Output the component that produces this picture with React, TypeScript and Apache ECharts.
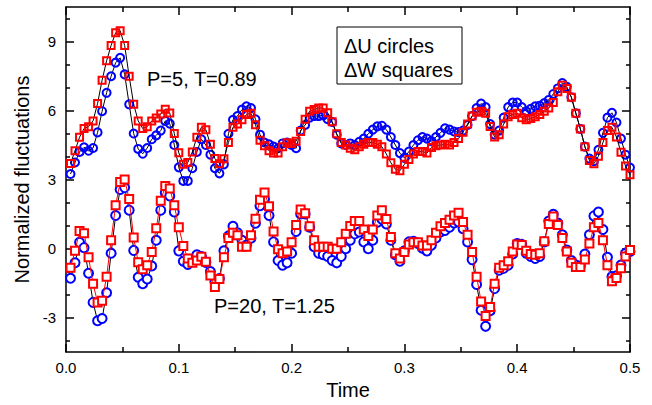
import React, { useEffect, useRef } from "react";
import * as echarts from "echarts";

const DT = 0.004;

const upperU = [
  3.24, 3.74, 4.2, 4.4, 4.25, 4.37, 5.05, 5.97, 6.77, 7.49,
  8.08, 8.29, 7.57, 6.27, 5.0, 4.33, 4.12, 4.37, 4.75, 4.92,
  5.13, 5.55, 5.43, 4.5, 3.53, 2.94, 2.94, 3.49, 4.2, 4.75,
  4.5, 4.08, 3.49, 3.27, 3.66, 4.99, 5.6, 5.76, 6.04, 6.18,
  6.11, 5.62, 4.95, 4.61, 4.53, 4.43, 4.36, 4.57, 4.61, 4.5,
  4.36, 5.13, 5.37, 5.69, 5.76, 5.76, 5.79, 5.62, 5.5, 4.95,
  4.57, 4.5, 4.57, 4.5, 4.64, 4.78, 4.99, 5.17, 5.31, 5.34,
  5.17, 4.85, 4.5, 4.15, 3.94, 4.22, 4.5, 4.71, 4.85, 4.78,
  4.67, 4.85, 5.03, 5.23, 5.17, 5.09, 5.06, 5.13, 5.37, 5.76,
  6.11, 6.3, 6.15, 5.41, 4.95, 5.13, 5.69, 6.15, 6.35, 6.35,
  6.15, 5.97, 6.07, 6.18, 6.21, 6.32, 6.46, 6.72, 6.96, 7.19,
  7.03, 6.58, 5.88, 5.2, 4.43, 3.91, 3.8, 4.29, 5.03, 5.69,
  5.9, 5.48, 4.78, 4.08, 3.52,
];

const upperW = [
  3.7, 4.25, 4.84, 5.22, 5.3, 5.55, 6.31, 7.32, 8.16, 8.83,
  9.38, 9.47, 8.83, 7.49, 6.27, 5.55, 5.22, 5.3, 5.55, 5.68,
  5.85, 6.06, 5.89, 5.0, 4.16, 3.66, 3.74, 4.2, 4.84, 5.27,
  5.17, 4.53, 3.91, 3.69, 3.9, 4.61, 5.27, 5.41, 5.6, 5.83,
  5.88, 5.38, 4.71, 4.47, 4.25, 4.15, 4.15, 4.43, 4.6, 4.57,
  4.67, 5.09, 5.62, 5.97, 6.04, 6.11, 6.11, 5.9, 5.51, 4.99,
  4.61, 4.5, 4.36, 4.29, 4.43, 4.53, 4.61, 4.61, 4.53, 4.43,
  4.11, 3.73, 3.45, 3.38, 3.66, 3.87, 4.11, 4.22, 4.22, 4.15,
  4.39, 4.47, 4.5, 4.53, 4.5, 4.61, 4.78, 5.06, 5.41, 5.76,
  5.93, 5.97, 5.88, 5.31, 4.85, 4.95, 5.41, 5.73, 5.83, 5.88,
  5.69, 5.6, 5.65, 5.73, 5.83, 5.97, 6.11, 6.35, 6.82, 7.1,
  6.96, 6.58, 5.88, 5.2, 4.43, 3.83, 3.69, 4.01, 4.61, 5.13,
  5.27, 4.85, 4.19, 3.59, 3.21,
];

const lowerU = [
  -1.29, -0.62, 0.27, 0.04, -1.07, -2.34, -3.14, -3.04, -1.92, -0.2,
  1.44, 2.57, 2.65, 1.67, -0.08, -1.25, -1.53, -1.32, -0.76, 0.36,
  1.67, 2.43, 2.29, 1.59, -0.1, -0.55, -0.69, -0.48, -0.27, -0.35,
  -0.6, -1.0, -1.45, -1.3, -0.1, 0.55, 0.97, 0.69, 0.36, 0.15,
  0.45, 1.1, 1.86, 2.15, 1.44, 0.29, -0.52, -0.72, -0.62, -0.2,
  0.74, 1.5, 1.5, 0.93, 0.08, -0.2, -0.27, -0.34, -0.52, -0.62,
  -0.34, -0.01, 0.36, 0.64, 0.72, 0.29, -0.01, 0.36, 1.14, 1.28,
  1.07, 0.36, -0.27, -0.55, -0.1, 0.29, 0.32, 0.22, 0.01, -0.1,
  0.15, 0.46, 0.72, 0.79, 0.93, 1.11, 1.16, 0.86, 0.29, -0.48,
  -1.56, -2.68, -3.38, -2.7, -1.74, -0.94, -0.86, -0.72, -0.24, 0.22,
  0.18, -0.2, -0.34, -0.43, -0.34, 0.29, 1.2, 1.49, 1.11, 0.6,
  -0.06, -0.52, -0.72, -0.76, -0.24, 0.6, 1.42, 1.59, 0.83, -0.38,
  -1.22, -1.18, -0.72, -0.2, -0.13,
];

const lowerW = [
  -0.83, -0.1, 0.76, 0.67, -0.38, -1.53, -2.34, -2.27, -1.22, 0.36,
  1.88, 2.89, 3.0, 2.15, 0.48, -0.59, -0.9, -0.72, -0.15, 0.88,
  2.08, 2.72, 2.61, 1.88, 0.93, 0.11, -0.43, -0.62, -0.52, -0.36,
  -0.57, -1.17, -1.67, -1.32, -0.38, 0.46, 0.69, 0.58, 0.08, 0.08,
  0.58, 1.3, 2.12, 2.44, 1.84, 0.74, -0.03, -0.2, -0.13, 0.27,
  1.02, 1.7, 1.53, 0.97, 0.36, 0.08, 0.08, 0.08, -0.01, -0.01,
  0.28, 0.64, 0.98, 1.2, 1.2, 0.83, 0.55, 0.83, 1.44, 1.67,
  1.28, 0.5, -0.2, -0.43, -0.15, 0.18, 0.27, 0.27, 0.13, 0.13,
  0.36, 0.69, 0.97, 1.11, 1.25, 1.44, 1.56, 1.16, 0.6, -0.15,
  -1.22, -2.3, -2.93, -2.54, -1.53, -0.83, -0.72, -0.55, -0.13, 0.18,
  0.15, -0.1, -0.24, -0.27, -0.2, 0.32, 1.07, 1.39, 1.02, 0.46,
  -0.13, -0.62, -0.8, -0.8, -0.48, 0.22, 0.93, 1.11, 0.36, -0.72,
  -1.42, -1.28, -0.86, -0.34, -0.06,
];

const yMajor = [-3, 0, 3, 6, 9];
const yMinor = [-4, -2, -1, 1, 2, 4, 5, 7, 8, 10];

const FONT = '"Liberation Sans", Arial, Helvetica, sans-serif';

const toPairs = (vals: number[]) =>
  vals.map((v, i) => [Number((DT * (i + 1)).toFixed(4)), v]);

export default function App() {
  const ref = useRef<HTMLDivElement>(null);

  useEffect(() => {
    if (!ref.current) return;
    const chart = echarts.init(ref.current, undefined, { renderer: "svg" });

    const axisLine = { show: true, onZero: false, lineStyle: { color: "#000", width: 1.5 } };
    const noLine = { show: false, onZero: false };
    const tickStyle = { color: "#000", width: 1.5 };

    const xBase = {
      type: "value",
      min: 0,
      max: 0.5,
      interval: 0.1,
      axisLine,
      axisTick: { show: true, inside: true, length: 8, lineStyle: tickStyle },
      minorTick: { show: true, splitNumber: 2, length: 5, lineStyle: tickStyle },
      splitLine: { show: false },
      minorSplitLine: { show: false },
    };

    const yBase = {
      type: "value",
      min: -4.5,
      max: 10.5,
      splitLine: { show: false },
    };

    const option = {
      animation: false,
      backgroundColor: "#fff",
      grid: { left: 66, right: 22, top: 7, bottom: 41, containLabel: false },
      xAxis: [
        {
          ...xBase,
          position: "bottom",
          axisLabel: {
            show: true,
            color: "#000",
            fontSize: 15,
            fontFamily: FONT,
            margin: 8,
            formatter: (v: number) => v.toFixed(1),
          },
          name: "Time",
          nameLocation: "middle",
          nameGap: 24,
          nameTextStyle: { color: "#000", fontSize: 20, fontFamily: FONT },
        },
        {
          ...xBase,
          position: "top",
          axisLabel: { show: false },
        },
      ],
      yAxis: [
        {
          ...yBase,
          position: "left",
          axisLine,
          axisTick: {
            show: true,
            inside: true,
            length: 8,
            customValues: yMajor,
            lineStyle: tickStyle,
          },
          axisLabel: {
            show: true,
            customValues: yMajor,
            color: "#000",
            fontSize: 15,
            fontFamily: FONT,
            margin: 10,
            formatter: (v: number) => String(v),
          },
          name: "Normalized fluctuations",
          nameLocation: "middle",
          nameGap: 32,
          nameTextStyle: { color: "#000", fontSize: 20, fontFamily: FONT },
        },
        {
          ...yBase,
          position: "left",
          axisLine: noLine,
          axisTick: {
            show: true,
            inside: true,
            length: 4,
            customValues: yMinor,
            lineStyle: tickStyle,
          },
          axisLabel: { show: false },
        },
        {
          ...yBase,
          position: "right",
          axisLine,
          axisTick: {
            show: true,
            inside: true,
            length: 8,
            customValues: yMajor,
            lineStyle: tickStyle,
          },
          axisLabel: { show: false },
        },
        {
          ...yBase,
          position: "right",
          axisLine: noLine,
          axisTick: {
            show: true,
            inside: true,
            length: 4,
            customValues: yMinor,
            lineStyle: tickStyle,
          },
          axisLabel: { show: false },
        },
      ],
      series: [
        {
          name: "lower dU",
          type: "line",
          data: toPairs(lowerU),
          symbol: "circle",
          symbolSize: 9,
          itemStyle: { color: "#fff", borderColor: "#0000ff", borderWidth: 2 },
          lineStyle: { color: "#000", width: 1 },
          z: 2,
        },
        {
          name: "lower dW",
          type: "line",
          data: toPairs(lowerW),
          symbol: "rect",
          symbolSize: 8,
          itemStyle: { color: "#fff", borderColor: "#ff0000", borderWidth: 2 },
          lineStyle: { color: "#ff0000", width: 1 },
          z: 3,
        },
        {
          name: "upper dU",
          type: "line",
          data: toPairs(upperU),
          symbol: "circle",
          symbolSize: 8,
          itemStyle: { color: "rgba(0,0,0,0)", borderColor: "#0000ff", borderWidth: 2 },
          lineStyle: { color: "#000", width: 1 },
          z: 4,
        },
        {
          name: "upper dW",
          type: "line",
          data: toPairs(upperW),
          symbol: "rect",
          symbolSize: 7,
          itemStyle: { color: "rgba(0,0,0,0)", borderColor: "#ff0000", borderWidth: 2 },
          lineStyle: { color: "#000", width: 1 },
          z: 5,
        },
      ],
      graphic: [
        {
          type: "text",
          left: 147,
          top: 69,
          z: 100,
          style: { text: "P=5, T=0.89", fill: "#000", font: `20px ${FONT}` },
        },
        {
          type: "text",
          left: 214,
          top: 296,
          z: 100,
          style: { text: "P=20, T=1.25", fill: "#000", font: `20px ${FONT}` },
        },
        {
          type: "rect",
          z: 100,
          shape: { x: 337, y: 27, width: 125, height: 57 },
          style: { fill: "#fff", stroke: "#000", lineWidth: 1 },
        },
        {
          type: "text",
          left: 344,
          top: 36,
          z: 101,
          style: { text: "\u0394U circles", fill: "#000", font: `20px ${FONT}` },
        },
        {
          type: "text",
          left: 344,
          top: 60,
          z: 101,
          style: { text: "\u0394W squares", fill: "#000", font: `20px ${FONT}` },
        },
      ],
    };

    chart.setOption(option as any);
    return () => chart.dispose();
  }, []);

  return (
    <div
      ref={ref}
      style={{ position: "absolute", left: 0, top: 0, width: 652, height: 405 }}
    />
  );
}
